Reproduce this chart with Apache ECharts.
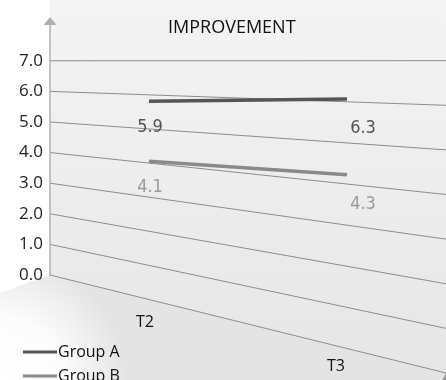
<!DOCTYPE html>
<html>
<head>
<meta charset="utf-8">
<script src="https://cdn.jsdelivr.net/npm/echarts@6/dist/echarts.min.js"></script>
<style>
  html, body { margin: 0; padding: 0; background: #fff; }
  #chart { width: 446px; height: 380px; }
</style>
</head>
<body>
<div id="chart"></div>
<script>
// Chart data
const categories = ['T2', 'T3'];
const seriesNames = ['Group A', 'Group B'];
const groupA = [5.9, 6.3];
const groupB = [4.1, 4.3];
const tickValues = [0, 1, 2, 3, 4, 5, 6, 7];
const chartTitle = 'IMPROVEMENT';

const FONT = '"Open Sans", "Noto Sans", sans-serif';
const LABEL_FONT = '"Liberation Sans Narrow", "DejaVu Sans Condensed", "Open Sans", sans-serif';

// Perspective settings: the back wall recedes towards the right,
// the series plane sits a little in front of it.
const WALL = { drop: 98, spread: 0.458 };
const FRONT = { lift: 3, drop: 80, scale: 1.015, spread: 0.3 };

function frac(rect, px) { return (px - rect.x) / rect.width; }

function wallPoint(rect, y0, px, py) {
  const t = frac(rect, px);
  return [px, y0 + WALL.drop * t + (py - y0) * (1 + WALL.spread * t)];
}

function frontPoint(rect, y0, px, py) {
  const t = frac(rect, px);
  return [px, y0 + FRONT.lift + FRONT.drop * t + (py - y0) * (FRONT.scale + FRONT.spread * t)];
}

// Back wall, floor, sloped grid lines and floor category labels
function renderFrame(params, api) {
  const rect = params.coordSys;
  const y0 = api.coord([0, 0])[1];
  const x0 = rect.x;
  const x1 = rect.x + rect.width;
  const H = api.getHeight();
  const baseR = wallPoint(rect, y0, x1, y0);
  const children = [];

  children.push({
    type: 'polygon',
    shape: { points: [[x0, 0], [x1, 0], baseR, [x0, y0]] },
    style: {
      fill: new echarts.graphic.LinearGradient(0, 0, 0, 1, [
        { offset: 0, color: '#f4f4f4' },
        { offset: 1, color: '#e6e6e6' }
      ])
    }
  });

  children.push({
    type: 'polygon',
    shape: { points: [[0, y0 + 18], [x0, y0], baseR, [x1, H], [0, H]] },
    style: {
      fill: new echarts.graphic.RadialGradient(0, 1, 1.2, [
        { offset: 0, color: '#ffffff' },
        { offset: 0.5, color: '#fcfcfc' },
        { offset: 1, color: '#e4e4e4' }
      ])
    }
  });

  tickValues.forEach(function (v) {
    const py = api.coord([0, v])[1];
    const a = wallPoint(rect, y0, x0, py);
    const b = wallPoint(rect, y0, x1, py);
    children.push({
      type: 'line',
      shape: { x1: a[0], y1: a[1], x2: b[0], y2: b[1] },
      style: { stroke: '#8c8c8c', lineWidth: 1 }
    });
  });

  // small arrow head at the far end of the floor edge
  children.push({
    type: 'polygon',
    shape: { points: [[baseR[0] - 4, baseR[1] + 8], [baseR[0] + 2, baseR[1] - 4], [baseR[0] + 4, baseR[1] + 8]] },
    style: { fill: '#999' }
  });

  categories.forEach(function (c, i) {
    const p = api.coord([i, 0]);
    const t = frac(rect, p[0]);
    const base = wallPoint(rect, y0, p[0], y0);
    children.push({
      type: 'text',
      x: p[0] - 4 - 14 * (t - 0.25),
      y: base[1] + 25 - 10 * t,
      style: {
        text: c,
        fill: '#111',
        font: '16px ' + FONT,
        align: 'center',
        verticalAlign: 'middle'
      }
    });
  });

  return { type: 'group', children: children };
}

// One group's line, segment by segment, with value labels below each point
function makeRenderer(values, lineColor, labelColor) {
  return function (params, api) {
    const rect = params.coordSys;
    const y0 = api.coord([0, 0])[1];
    const i = params.dataIndex;
    const at = function (j, v) {
      const p = api.coord([j, v]);
      return frontPoint(rect, y0, p[0], p[1]);
    };
    const p = at(i, api.value(1));
    const children = [];
    if (i < values.length - 1) {
      const q = at(i + 1, values[i + 1]);
      children.push({
        type: 'line',
        shape: { x1: p[0], y1: p[1], x2: q[0], y2: q[1] },
        style: { stroke: lineColor, lineWidth: 3.5, lineCap: 'butt' }
      });
    }
    const t = frac(rect, p[0]);
    children.push({
      type: 'text',
      x: p[0] + 30 * t - 6.5,
      y: p[1] + 26 + 7 * (t - 0.25),
      style: {
        text: api.value(1).toFixed(1),
        fill: labelColor,
        font: '18px ' + LABEL_FONT,
        align: 'center',
        verticalAlign: 'middle'
      }
    });
    return { type: 'group', children: children };
  };
}

const toPoints = function (values) { return values.map(function (v, i) { return [i, v]; }); };

const chart = echarts.init(document.getElementById('chart'), null, { renderer: 'canvas' });

chart.setOption({
  animation: false,
  backgroundColor: '#ffffff',
  title: {
    text: chartTitle,
    left: 163,
    top: 14,
    textStyle: { fontFamily: FONT, fontSize: 18, fontWeight: 'normal', color: '#111' }
  },
  legend: {
    orient: 'vertical',
    left: 18,
    top: 339,
    height: 100,
    itemWidth: 34,
    itemHeight: 3,
    itemGap: 8,
    data: [
      { name: seriesNames[0], icon: 'rect' },
      { name: seriesNames[1], icon: 'rect' }
    ],
    textStyle: { fontFamily: FONT, fontSize: 16, color: '#111', padding: [0, 0, 0, -4] }
  },
  grid: { left: 50, right: 0, top: 21, bottom: 105, containLabel: false },
  xAxis: {
    type: 'category',
    data: categories,
    boundaryGap: true,
    show: false
  },
  yAxis: {
    type: 'value',
    min: 0,
    max: 8.3,
    interval: 1,
    z: 10,
    axisLine: {
      show: true,
      symbol: ['none', 'triangle'],
      symbolSize: [13, 8],
      lineStyle: { color: '#b0b0b0', width: 1.5 }
    },
    axisTick: { show: false },
    splitLine: { show: false },
    axisLabel: {
      margin: 7,
      fontFamily: FONT,
      fontSize: 17,
      color: '#222',
      formatter: function (v) { return v <= tickValues[tickValues.length - 1] ? v.toFixed(1) : ''; }
    }
  },
  series: [
    {
      type: 'custom',
      name: 'frame',
      silent: true,
      z: 1,
      data: [[0, 0]],
      renderItem: renderFrame
    },
    {
      type: 'custom',
      name: seriesNames[0],
      itemStyle: { color: '#555555' },
      z: 3,
      data: toPoints(groupA),
      encode: { x: 0, y: 1 },
      renderItem: makeRenderer(groupA, '#555555', '#555555')
    },
    {
      type: 'custom',
      name: seriesNames[1],
      itemStyle: { color: '#8a8a8a' },
      z: 3,
      data: toPoints(groupB),
      encode: { x: 0, y: 1 },
      renderItem: makeRenderer(groupB, '#8a8a8a', '#9a9a9a')
    }
  ]
});
</script>
</body>
</html>
